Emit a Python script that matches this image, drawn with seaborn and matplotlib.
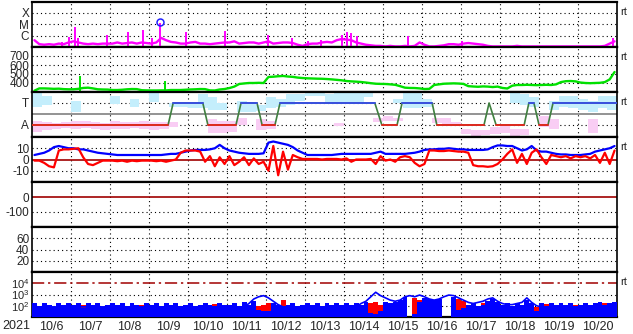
import numpy as np
import pandas as pd
import matplotlib
matplotlib.use("Agg")
import matplotlib.pyplot as plt
import seaborn as sns

# ---------------- data (time in days from 10/6 00:00 UT, 3-hour bins) ----------------
date_labels = ["10/6", "10/7", "10/8", "10/9", "10/10", "10/11", "10/12", "10/13",
               "10/14", "10/15", "10/16", "10/17", "10/18", "10/19", "10/20"]

# GOES X-ray background (log10 W/m2)
xray_base = [-6.4, -6.75, -6.8, -6.75, -6.8, -6.7, -6.75, -6.6,
             -6.5, -6.6, -6.7, -6.75, -6.7, -6.75, -6.7, -6.7,
             -6.7, -6.6, -6.7, -6.65, -6.6, -6.7, -6.6, -6.65,
             -6.7, -6.6, -6.2, -6.4, -6.55, -6.6, -6.7, -6.7,
             -6.6, -6.55, -6.7, -6.7, -6.75, -6.7, -6.65, -6.6,
             -6.6, -6.5, -6.7, -6.65, -6.6, -6.6, -6.7, -6.6,
             -6.5, -6.7, -6.65, -6.6, -6.6, -6.65, -6.8, -6.9,
             -6.75, -6.7, -6.7, -6.6, -6.55, -6.6, -6.4, -6.3,
             -6.35, -6.4, -6.6, -6.7, -6.8, -6.85, -6.9, -6.9,
             -6.95, -6.9, -6.95, -6.95, -6.9, -6.95, -6.9, -6.6,
             -6.8, -6.95, -6.95, -6.9, -6.85, -6.75, -6.75, -6.8,
             -6.7, -6.65, -6.7, -6.75, -6.8, -6.9, -6.95, -6.95,
             -6.95, -6.95, -6.95, -6.9, -6.95, -6.95, -6.95, -6.95,
             -6.95, -6.95, -6.95, -6.95, -6.95, -6.95, -6.95, -6.95,
             -6.95, -6.95, -6.95, -6.95, -6.95, -6.9, -6.7, -6.5]
flare_day = [0.78, 0.95, 1.10, 1.18, 1.92, 2.46, 2.85, 3.08, 3.28, 3.95, 4.95,
             6.05, 6.67, 7.08, 7.41, 7.95, 8.08, 8.18, 8.33, 9.64, 11.03, 14.9]
flare_peak = [-6.55, -6.1, -5.2, -6.2, -5.95, -5.7, -5.5, -6.2, -4.85, -5.7, -5.6,
              -5.95, -6.2, -6.5, -6.4, -5.9, -5.65, -5.8, -6.0, -6.0, -6.47, -6.2]
mflare_day = [3.28]
mflare_peak = [-4.82]

# Solar wind speed (km/s)
speed = [315, 340, 340, 338, 335, 337, 332, 330,
         330, 335, 345, 348, 340, 330, 328, 327,
         322, 322, 325, 330, 333, 332, 320, 318,
         317, 317, 318, 318, 322, 322, 322, 325,
         328, 330, 333, 332, 318, 317, 328, 333,
         344, 360, 389, 395, 400, 400, 402, 400,
         467, 470, 475, 478, 472, 468, 460, 455,
         452, 450, 448, 447, 444, 440, 435, 430,
         422, 418, 415, 411, 405, 398, 392, 390,
         389, 385, 380, 365, 348, 345, 344, 340,
         333, 335, 378, 385, 392, 394, 396, 394,
         390, 365, 361, 358, 362, 360, 355, 360,
         345, 339, 370, 378, 378, 380, 378, 376,
         378, 380, 378, 385, 410, 420, 422, 418,
         405, 400, 398, 400, 402, 410, 440, 522]
speed_spike_day = [1.23, 3.41]
speed_spike_val = [478, 422]

# IMF sector (T=3, A=1) and phi scatter bands (6-hour bins)
sector_day = [0, 3.49, 3.62, 4.38, 4.51, 5.23, 5.36, 5.77, 5.90, 6.23, 6.36, 8.79,
              8.97, 9.36, 9.49, 10.26, 10.38, 11.59, 11.72, 11.90, 12.62, 12.74,
              12.87, 13.0, 13.23, 13.36, 15.0]
sector_lvl = [1, 1, 3, 3, 1, 1, 3, 3, 1, 1, 3, 3,
              1, 1, 3, 3, 1, 1, 3, 1, 1, 3,
              3, 1, 1, 3, 3]
nan = float("nan")
cyan_lo = [2.6, 2.8, nan, nan, 2.2, nan, nan, nan, 2.9, nan, 2.6, nan, 3.1, nan, 2.6, 2.6,
           2.5, 2.5, 2.4, 2.4, nan, 2.2, 2.2, 2.3, 2.5, 2.6, 2.8, 3.2, 3.6, 3.6, 3.0, 3.0,
           2.9, 3.0, 3.5, nan, nan, 3.0, 2.5, 2.5, 2.6, nan, nan, nan, nan, nan, nan, nan,
           nan, 3.0, 2.8, 2.6, nan, 2.4, 2.6, 2.5, 2.4, 2.2, 2.5, 2.4]
cyan_hi = [3.9, 3.6, nan, nan, 3.2, nan, nan, nan, 3.6, nan, 3.4, nan, 3.9, nan, 3.0, 2.9,
           3.0, 3.8, 3.5, 3.0, nan, 3.2, 3.0, 2.8, 3.5, 3.4, 3.8, 3.8, 3.9, 3.9, 3.8, 3.9,
           3.9, 3.9, 3.9, nan, nan, 3.4, 3.9, 3.9, 3.4, nan, nan, nan, nan, nan, nan, nan,
           nan, 3.9, 3.8, 3.5, nan, 3.2, 3.6, 3.6, 3.4, 3.2, 3.6, 3.6]
pink_lo = [0.4, 0.5, 0.6, 0.7, 0.6, 0.7, 0.6, 0.5, 0.6, 0.6, 0.7, 0.6, 0.5, 0.6, 0.8, nan,
           nan, nan, 0.3, 0.3, 0.4, 1.0, nan, 0.5, 0.6, nan, nan, nan, nan, nan, nan, 0.9,
           nan, nan, nan, 1.3, 1.4, 1.4, nan, nan, nan, 1.2, 0.9, 0.9, 0.2, 0.0, 0.1, 0.2,
           0.3, 0.0, 0.1, nan, 0.8, 0.6, nan, nan, nan, 0.3, nan, nan]
pink_hi = [1.4, 1.3, 1.2, 1.3, 1.4, 1.4, 1.3, 1.2, 1.4, 1.3, 1.3, 1.4, 1.3, 1.3, 1.3, nan,
           nan, nan, 1.5, 1.4, 1.4, 1.6, nan, 1.5, 1.4, nan, nan, nan, nan, nan, nan, 1.2,
           nan, nan, nan, 1.6, 1.8, 1.6, nan, nan, nan, 1.6, 1.6, 1.3, 0.6, 0.5, 0.5, 0.8,
           0.9, 0.6, 0.6, nan, 1.8, 1.5, nan, nan, nan, 1.5, nan, nan]

# IMF Bt and Bz (nT)
bt = [4, 5, 6, 8, 11, 12, 11, 10,
      10, 9, 9, 8, 7, 6, 5.5, 5,
      4.5, 4, 4, 4, 4, 4, 4, 4,
      4, 4, 4, 4.5, 5, 5, 6, 7,
      8, 8.5, 8.5, 8.5, 9, 10, 13, 10,
      8, 7, 6, 5.5, 5, 5, 5, 5.5,
      15, 16, 15, 14, 13, 11, 8, 6,
      4, 4, 4, 4, 4, 4, 4.5, 5,
      5, 5, 5, 5, 5, 5, 6, 7,
      5, 5, 5, 5, 5, 5.5, 6, 7,
      8.5, 9, 9, 9.5, 9.5, 10, 9.5, 9,
      9, 8.5, 8.5, 8.5, 8.5, 9, 11, 12.5,
      12.5, 12, 12, 10, 8, 9, 12, 8,
      7, 7, 6, 5, 4.5, 4.5, 4, 4,
      4, 4.5, 5, 7, 8, 9, 10, 12]
bz = [-1, -1, -3, -6, -7, 8, 9, 9,
      9.5, 10, 2, -4, -5, -3, -1, -1,
      -1, -1.5, -1, -2, -1, -1.5, -1, -1,
      -1, -1.5, -1, -2, -1, 0, 6, 8,
      8, 8, 7, -2, 3, -6, 2, -4,
      3, -5, -2, 2, -5, 1, -4, -2,
      -10, 12, -14, 7, -9, 4, 2, 0.5,
      0.5, 0.5, 0.5, 0, 0.5, 0.5, 0.5, 0,
      1, -2, 0, 0, 0, 0.5, -4, 3,
      -1, 0, -2, 2, 3, 2, -3, -6,
      -4, 8, 8, 7.5, 7.5, 8, 7.5, 7,
      7, 6, -5, -6, -6, -6.5, -6, -4,
      0, 5, 9, -3, 5, -4, 6, 9,
      2, -4, 4, 3, 2, 3, 1, 3,
      2, 3, 1, 4, -3, 6, -4, 8]

# Electron / proton flux (log10)
e_blue = [2.2, 2.0, 2.2, 2.1, 1.9, 2.2, 2.1, 2.2,
          2.1, 2.2, 1.8, 2.2, 2.1, 2.2, 1.9, 2.1,
          2.2, 2.1, 2.2, 2.0, 2.2, 2.1, 1.9, 2.2,
          2.1, 2.2, 2.0, 2.2, 2.1, 2.2, 2.0, 2.1,
          2.2, 2.0, 2.1, 2.2, 2.1, 2.0, 2.2, 2.1,
          2.1, 2.2, 2.0, 2.3, 2.1, 2.4, 1.6, 1.5,
          1.5, 2.2, 2.1, 2.0, 2.1, 2.2, 2.0, 2.1,
          2.2, 2.1, 2.2, 2.0, 2.2, 2.1, 2.2, 2.1,
          2.2, 2.1, 2.2, 2.1, 2.3, 1.4, 1.3, 1.5,
          2.3, 2.2, 2.3, 2.5, 2.8, 1.0, 1.3, 2.3,
          2.7, 2.6, 2.5, 2.6, 1.0, 1.0, 2.8, 1.6,
          1.8, 2.1, 2.2, 2.0, 2.1, 2.4, 2.6, 2.3,
          2.1, 2.2, 2.0, 2.2, 2.1, 2.5, 2.2, 1.5,
          2.2, 2.0, 2.2, 2.1, 2.2, 2.1, 2.2, 2.0,
          2.1, 2.2, 2.1, 2.2, 2.3, 2.1, 2.2, 2.3]
e_red = [1.0, 1.0, 1.0, 1.0, 1.0, 1.0, 1.0, 1.0,
         1.0, 1.0, 2.1, 1.0, 1.0, 1.0, 1.0, 1.0,
         1.0, 1.0, 1.0, 1.0, 1.0, 1.0, 2.1, 1.0,
         1.0, 1.0, 1.0, 1.0, 1.0, 1.0, 1.0, 1.0,
         1.0, 1.0, 1.0, 1.0, 1.0, 2.15, 1.0, 1.0,
         1.0, 1.0, 1.0, 1.0, 1.0, 1.0, 2.0, 2.1,
         2.2, 1.0, 1.0, 2.5, 1.0, 1.0, 1.0, 1.0,
         1.0, 1.0, 1.0, 1.0, 1.0, 1.0, 1.0, 1.0,
         1.0, 1.0, 1.0, 1.0, 1.0, 2.2, 2.3, 2.1,
         1.0, 1.0, 1.0, 1.0, 1.0, 1.0, 2.7, 2.5,
         1.0, 1.0, 1.0, 1.0, 1.0, 1.0, 1.0, 2.6,
         2.4, 1.0, 1.0, 1.0, 2.2, 1.0, 1.0, 1.0,
         1.0, 1.0, 1.0, 1.0, 1.0, 1.0, 1.0, 1.9,
         1.0, 2.15, 1.0, 1.0, 1.0, 1.0, 1.0, 2.1,
         1.0, 1.0, 1.0, 1.0, 1.0, 2.2, 1.0, 1.0]
e_line = [1.9] * 8 * 5 + \
         [1.9, 1.9, 1.9, 1.9, 2.2, 2.6, 2.8, 2.9,
          2.7, 2.4, 2.1, 1.9, 1.9, 1.9, 1.9, 1.9,
          1.9, 1.9, 1.9, 1.9, 1.9, 1.9, 1.9, 1.9,
          1.9, 1.9, 1.9, 2.2, 2.4, 2.8, 3.2, 2.9,
          2.7, 2.5, 2.4, 2.5, 2.8, 2.9, 2.8, 2.95,
          2.8, 2.6, 2.5, 2.6, 2.8, 2.95, 2.9, 2.7,
          2.5, 2.3, 2.2, 2.3, 2.4, 2.6, 2.7, 2.4,
          2.2, 2.1, 2.1, 2.2, 2.3, 2.7, 2.3, 2.0] + [1.9] * 16

# ---------------- styling ----------------
sns.set_style("white")
plt.rcParams["font.family"] = ["Liberation Sans", "DejaVu Sans"]
plt.rcParams["mathtext.default"] = "regular"

W, H = 633, 334
fig = plt.figure(figsize=(W / 100, H / 100), dpi=100)
left_px, right_px, top_px, ph = 32, 617, 2, 45
axes = []
for k in range(7):
    top = top_px + ph * k
    ax = fig.add_axes([left_px / W, (H - top - ph) / H, (right_px - left_px) / W, ph / H])
    axes.append(ax)

DOT = (0, (1, 2.8))
FS = 8.5
t3 = (np.arange(120) + 0.5) / 8.0
edges = np.arange(121) / 8.0

def base(ax, ylim, yticks, ylabels, hlines, rt=False):
    ax.set_xlim(0, 15)
    ax.set_ylim(*ylim)
    ax.set_yticks(yticks)
    ax.set_yticklabels(ylabels)
    ax.set_xticks([])
    ax.tick_params(axis="y", length=0, pad=2, labelsize=FS)
    for d in range(1, 15):
        ax.axvline(d, color="black", lw=0.8, ls=DOT, zorder=1)
    for h in hlines:
        ax.axhline(h, color="black", lw=0.8, ls=DOT, zorder=1)
    for s in ["top", "bottom"]:
        ax.spines[s].set_linewidth(1.6)
        ax.spines[s].set_color("black")
    for s in ["left", "right"]:
        ax.spines[s].set_linewidth(1.2)
        ax.spines[s].set_color("black")
    if rt:
        ax.text(1.006, 0.78, "rt", transform=ax.transAxes, fontsize=8,
                ha="left", va="center")
    ax.set_xlabel("")
    ax.set_ylabel("")

# Panel 1: X-ray
ax = axes[0]
df = pd.DataFrame({"t": t3, "v": xray_base})
sns.lineplot(data=df, x="t", y="v", ax=ax, color="#ff00ff", lw=1.7,
             estimator=None, legend=False, zorder=3)
ax.vlines(flare_day, -7, flare_peak, color="#ff00ff", lw=1.4, zorder=3)
ax.plot(mflare_day, mflare_peak, "o", mfc="none", mec="#2020ff", ms=5, mew=1.1, zorder=4)
base(ax, (-7, -3.03), [-6, -5, -4], ["C", "M", "X"], [-6, -5, -4], rt=True)

# Panel 2: solar wind speed
ax = axes[1]
df = pd.DataFrame({"t": t3, "v": speed})
sns.lineplot(data=df, x="t", y="v", ax=ax, color="#00e000", lw=1.7,
             estimator=None, legend=False, zorder=3)
ax.vlines(speed_spike_day, 300, speed_spike_val, color="#00e000", lw=1.4, zorder=3)
base(ax, (300, 800), [400, 500, 600, 700], ["400", "500", "600", "700"],
     [400, 500, 600, 700], rt=True)

# Panel 3: IMF sector
ax = axes[2]
d6 = np.arange(60) / 4.0
cl, ch = np.array(cyan_lo), np.array(cyan_hi)
pl, phh = np.array(pink_lo), np.array(pink_hi)
ax.bar(d6, ch - cl, bottom=cl, width=0.25, align="edge", color="#c4eefc", lw=0, zorder=1.5)
ax.bar(d6, phh - pl, bottom=pl, width=0.25, align="edge", color="#f9cdf4", lw=0, zorder=1.5)
ax.axhline(2, color="#808080", lw=1.2, zorder=2)
ax.plot(sector_day, sector_lvl, color="#3f7f3f", lw=1.2, zorder=3)
for i in range(len(sector_day) - 1):
    if sector_lvl[i] == sector_lvl[i + 1]:
        c = "#3a50e0" if sector_lvl[i] == 3 else "#e02a20"
        ax.plot(sector_day[i:i + 2], sector_lvl[i:i + 2], color=c, lw=1.4, zorder=4)
base(ax, (-0.1, 4.0), [1, 3], ["A", "T"], [1, 3], rt=True)

# Panel 4: Bt / Bz
ax = axes[3]
ax.axhline(0, color="#a00000", lw=1.2, zorder=2)
df = pd.DataFrame({"t": t3, "bt": bt, "bz": bz})
sns.lineplot(data=df, x="t", y="bt", ax=ax, color="#0000ff", lw=1.6,
             estimator=None, legend=False, zorder=3)
sns.lineplot(data=df, x="t", y="bz", ax=ax, color="#ff0000", lw=1.6,
             estimator=None, legend=False, zorder=4)
base(ax, (-20, 20), [-10, 0, 10], ["-10", "0", "10"], [-10, 10], rt=True)

# Panel 5: Dst (empty)
ax = axes[4]
ax.axhline(0, color="#a00000", lw=1.2, zorder=2)
base(ax, (-200, 100), [-100, 0], ["-100", "0"], [-100])

# Panel 6: empty
ax = axes[5]
base(ax, (0, 80), [20, 40, 60], ["20", "40", "60"], [20, 40, 60])

# Panel 7: particle flux
ax = axes[6]
ax.set_yscale("log")
yb = 10 ** np.append(e_blue, e_blue[-1])
yr = 10 ** np.append(e_red, e_red[-1])
ax.fill_between(edges, 10, yr, step="post", color="#ff0000", lw=0, zorder=2)
ax.fill_between(edges, 10, yb, step="post", color="#0000ff", lw=0, zorder=3)
df = pd.DataFrame({"t": t3, "v": 10 ** np.array(e_line)})
sns.lineplot(data=df, x="t", y="v", ax=ax, color="#0000ff", lw=1.2,
             estimator=None, legend=False, zorder=4)
ax.axhline(1e4, color="#a00000", lw=1.1, ls=(0, (8, 2.5, 1.5, 2.5)), zorder=2)
base(ax, (10, 1e5), [1e2, 1e3, 1e4], ["$10^2$", "$10^3$", "$10^4$"], [1e2, 1e3], rt=True)
ax.minorticks_off()
ax.tick_params(axis="y", labelsize=8)
ax.set_xticks(np.arange(15) + 0.5)
ax.set_xticklabels(date_labels)
ax.tick_params(axis="x", length=0, pad=3, labelsize=9)

fig.text(16 / W, 1 - 326 / H, "2021", ha="center", va="center", fontsize=9)

fig.savefig("out.png", dpi=100, facecolor="white")
